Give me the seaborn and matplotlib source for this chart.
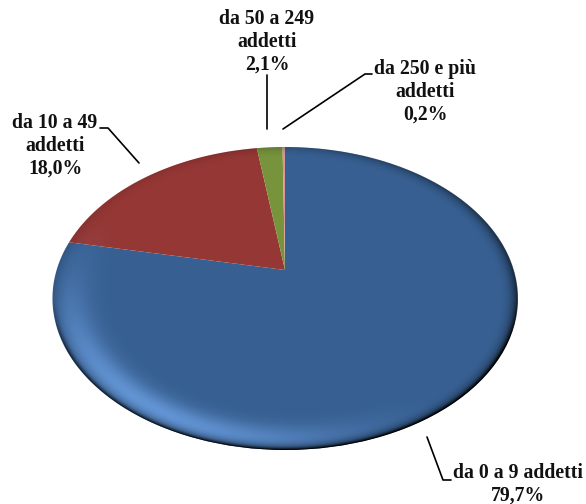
import numpy as np
import matplotlib
matplotlib.use("Agg")
import matplotlib.pyplot as plt
import seaborn as sns
from matplotlib.patches import Polygon, Ellipse
from matplotlib.transforms import Affine2D

labels = ["da 0 a 9 addetti\n79,7%", "da 10 a 49\naddetti\n18,0%",
          "da 50 a 249\naddetti\n2,1%", "da 250 e più\naddetti\n0,2%"]
values = [79.7, 18.0, 2.1, 0.2]
colors = ["#375F91", "#953735", "#77933C", "#D99694"]

sns.set_theme(style="white")
plt.rcParams["font.family"] = ["Liberation Serif", "DejaVu Serif"]

# pie apex and perspective of the tilted disc, in pixels
APEX = (285.0, 270.0)
SX, SY, K = 228.4, 146.1, 0.188


def tilt(xy):
    # small angle shift on the far left, then the perspective
    r = np.hypot(xy[:, 0], xy[:, 1])
    th = np.arctan2(xy[:, 1], xy[:, 0])
    th = th + np.radians(6.1) * np.cos(th) ** 2
    x, y = r * np.cos(th), r * np.sin(th)
    w = 1 + K * y
    return np.column_stack([APEX[0] + SX * x / w, APEX[1] - SY * y / w])


fig = plt.figure(figsize=(5.86, 5.04), dpi=100)
ax = fig.add_axes([0, 0, 1, 1])
wedges, _ = ax.pie(values, colors=colors, startangle=90, counterclock=False)
ax.set(xlim=(0, 586), ylim=(504, 0), aspect="auto")

# push the flat pie through the perspective
for w in wedges:
    path = w.get_patch_transform().transform_path(w.get_path())
    big = Affine2D().scale(2000).transform_path(path)
    pts = big.to_polygons(closed_only=False)[0] / 2000
    ax.add_patch(Polygon(tilt(pts), closed=True, fc=w.get_facecolor(), ec="none", zorder=2))
    w.remove()

# rim shading and highlight
cx, cy, rx, ry = 285.5, 298.5, 232.5, 151.5
xx, yy = np.meshgrid(np.arange(0, 586), np.arange(0, 504))
dx, dy = (xx + 0.5 - cx) / rx, (yy + 0.5 - cy) / ry
d = np.hypot(dx, dy)
ang = np.arctan2(dy, dx)
clip = Ellipse((cx, cy), 2 * rx, 2 * ry, fc="none", ec="none", zorder=0)
ax.add_patch(clip)

side = 0.42 + 0.33 * np.cos(ang - np.radians(40))
dark = np.clip((d - 0.91) / 0.09, 0, 1) ** 3 * side
thin = np.clip((d - 0.97) / 0.03, 0, 1) ** 2 * 0.5 * np.clip(dy * 3, 0, 1)
glow = np.exp(-((d - 0.92) / 0.09) ** 2) * np.clip(np.cos(ang - np.radians(130)), 0, 1) ** 2 * 0.6

for shade, tint in [(glow, (0.50, 0.72, 1.0)), (np.clip(dark + thin, 0, 1), (0.0, 0.0, 0.0))]:
    rgba = np.zeros(d.shape + (4,))
    rgba[..., :3] = tint
    rgba[..., 3] = shade
    im = ax.imshow(rgba, extent=(0, 586, 504, 0), aspect="auto", zorder=3, interpolation="bilinear")
    im.set_clip_path(clip)
ax.set(xlim=(0, 586), ylim=(504, 0))
ax.axis("off")

# labels and leader lines
label_pos = [(518, 484), (55, 146), (267, 42), (425, 92)]
leaders = [[(427, 437), (443, 480), (451, 480)],
           [(139, 163), (108, 128), (100, 128)],
           [(267, 75), (267, 129)],
           [(283, 129), (365, 74), (372, 74)]]
for text, (x, y), pts in zip(labels, label_pos, leaders):
    ax.text(x, y, text, ha="center", va="center", fontsize=14.2, fontweight="bold",
            color="#111111", linespacing=1.2, zorder=5)
    pts = np.array(pts)
    ax.plot(pts[:, 0], pts[:, 1], color="black", lw=1.2, zorder=4)

fig.savefig("out.png", dpi=100)
